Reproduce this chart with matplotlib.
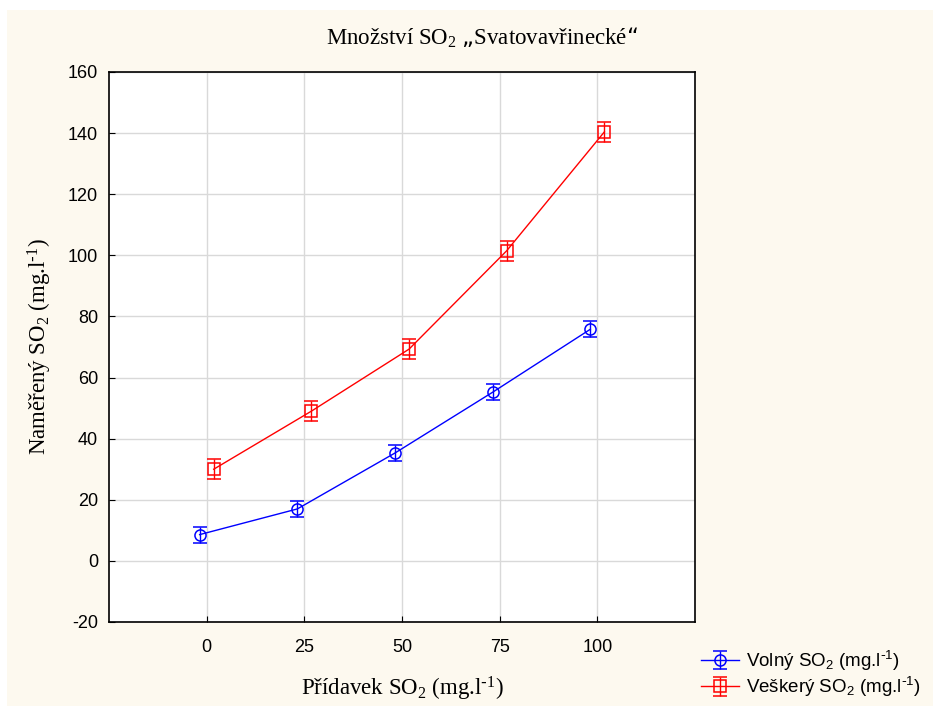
import matplotlib
matplotlib.use("Agg")
import matplotlib.pyplot as plt
from matplotlib.patches import Rectangle

# data
added = [0, 25, 50, 75, 100]
free_so2 = [8.6, 17.0, 35.3, 55.2, 75.8]
free_err = [2.6, 2.6, 2.6, 2.6, 2.6]
total_so2 = [30.0, 49.0, 69.3, 101.5, 140.4]
total_err = [3.2, 3.2, 3.2, 3.2, 3.2]
x_ticks = [0, 25, 50, 75, 100]
y_ticks = [-20, 0, 20, 40, 60, 80, 100, 120, 140, 160]

plt.rcParams['mathtext.default'] = 'regular'
plt.rcParams['axes.unicode_minus'] = False
SERIF = 'Liberation Serif'
SANS = 'Liberation Sans'
BG = '#fdf9ef'
UNIT = '(mg.l$^{\\text{-}1}$)'

fig = plt.figure(figsize=(9.33, 7.06), dpi=100, facecolor='white')
fig.patches.append(Rectangle((7 / 933, 0), 1, 1 - 10 / 706, transform=fig.transFigure,
                             facecolor=BG, edgecolor='none', zorder=-10))
ax = fig.add_axes([109 / 933, 1 - 622 / 706, 586 / 933, 550 / 706])
ax.set_facecolor('white')

offset = 1.8
ax.errorbar([v - offset for v in added], free_so2, yerr=free_err, color='#0000ff',
            marker='o', mfc='none', ms=8, mew=1.1, lw=1, capsize=5, elinewidth=1,
            label='Volný SO$_2$ ' + UNIT, zorder=3)
ax.errorbar([v + offset for v in added], total_so2, yerr=total_err, color='#ff0000',
            marker='s', mfc='none', ms=8, mew=1.1, lw=1, capsize=5, elinewidth=1,
            label='Veškerý SO$_2$ ' + UNIT, zorder=3)

ax.set_xlim(-25, 125)
ax.set_ylim(-20, 160)
ax.set_xticks(x_ticks)
ax.set_yticks(y_ticks)
ax.grid(True, color='#d9d9d9', lw=1)
ax.set_axisbelow(True)
for s in ax.spines.values():
    s.set_linewidth(1.2)
ax.tick_params(direction='in', length=4, labelsize=13)
ax.tick_params(axis='x', pad=12)
ax.tick_params(axis='y', pad=8)
for lab in ax.get_xticklabels() + ax.get_yticklabels():
    lab.set_family(SANS)

ax.set_xlabel('Přídavek SO$_2$ ' + UNIT, family=SERIF, fontsize=16.5, labelpad=14)
ax.set_ylabel('Naměřený SO$_2$ ' + UNIT, family=SERIF, fontsize=16.5, labelpad=10)
fig.text(482 / 933, 1 - 38 / 706, 'Množství SO$_2$ \u201eSvatovavřinecké\u201c', family=SERIF,
         fontsize=16.5, ha='center', va='center')

fig.legend(loc='lower right', bbox_to_anchor=(1.005, -0.014), frameon=False,
           prop={'family': SANS, 'size': 13.5}, handlelength=2.0, handletextpad=0.4,
           labelspacing=0.12)

fig.savefig('out.png', dpi=100, facecolor=fig.get_facecolor())
